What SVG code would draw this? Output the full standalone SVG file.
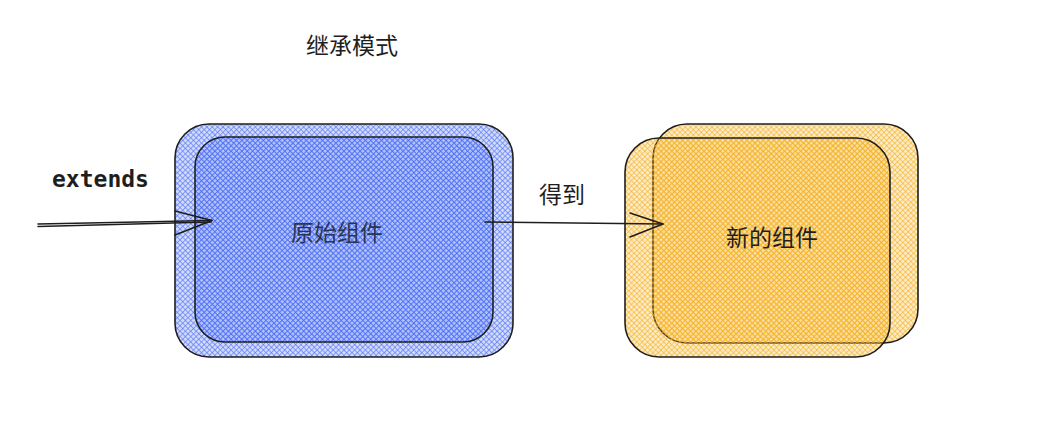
<svg xmlns="http://www.w3.org/2000/svg" width="1038" height="428" viewBox="0 0 1038 428">
  <style>
    .shape { stroke: #1e1e1e; stroke-width: 1.6; stroke-linecap: round; }
    .conn { fill: none; stroke: #1e1e1e; stroke-width: 1.5; stroke-linecap: round; stroke-linejoin: round; }
    .cjk { font-family: "Noto Sans CJK SC", "Noto Sans", sans-serif; font-size: 23px; fill: #1e1e1e; }
    .mono { font-family: "DejaVu Sans Mono", "Liberation Mono", monospace; font-size: 23px; font-weight: bold; fill: #1e1e1e; }
  </style>
  <defs>
    <pattern id="hatchBlue" patternUnits="userSpaceOnUse" width="3.8" height="3.8" patternTransform="rotate(45)">
      <rect width="3.8" height="3.8" fill="#4c6ef5" fill-opacity="0.25"/>
      <line x1="0" y1="0" x2="3.8" y2="0" stroke="#4c6ef5" stroke-width="1.6" stroke-opacity="0.75"/>
      <line x1="0" y1="0" x2="0" y2="3.8" stroke="#4c6ef5" stroke-width="1.6" stroke-opacity="0.75"/>
    </pattern>
    <pattern id="hatchYellow" patternUnits="userSpaceOnUse" width="3.8" height="3.8" patternTransform="rotate(45)">
      <rect width="3.8" height="3.8" fill="#f5b01e" fill-opacity="0.25"/>
      <line x1="0" y1="0" x2="3.8" y2="0" stroke="#f5b01e" stroke-width="1.6" stroke-opacity="0.75"/>
      <line x1="0" y1="0" x2="0" y2="3.8" stroke="#f5b01e" stroke-width="1.6" stroke-opacity="0.75"/>
    </pattern>
  </defs>

  <rect width="1038" height="428" fill="#ffffff"/>

  <g id="title">
    <text class="cjk" x="352" y="54" text-anchor="middle">继承模式</text>
  </g>

  <g id="node-original">
    <rect class="shape" x="175" y="124" width="338" height="233" rx="34" fill="url(#hatchBlue)"/>
    <rect class="shape" x="195" y="137" width="298" height="205" rx="30" fill="url(#hatchBlue)"/>
    <text class="cjk" x="337" y="241" text-anchor="middle" style="fill:#2b3352">原始组件</text>
  </g>

  <g id="node-new">
    <rect class="shape" x="653" y="124" width="265" height="219" rx="34" fill="url(#hatchYellow)"/>
    <rect class="shape" x="625" y="138" width="265" height="219" rx="34" fill="url(#hatchYellow)"/>
    <text class="cjk" x="772" y="246" text-anchor="middle">新的组件</text>
  </g>

  <g id="connectors">
    <g id="edge-extends">
      <path class="conn" d="M38 224 L212 220.5"/>
      <path class="conn" d="M38 226.5 L211 222"/>
      <path class="conn" d="M175 211 L212 220.5 L175 235"/>
    </g>
    <g id="edge-get">
      <path class="conn" d="M485 222 L663 224"/>
      <path class="conn" d="M630 213 L663 224 L630 237"/>
    </g>
  </g>

  <g id="label-extends">
    <text class="mono" x="52" y="187">extends</text>
  </g>
  <g id="label-get">
    <text class="cjk" x="562" y="203" text-anchor="middle">得到</text>
  </g>
</svg>
